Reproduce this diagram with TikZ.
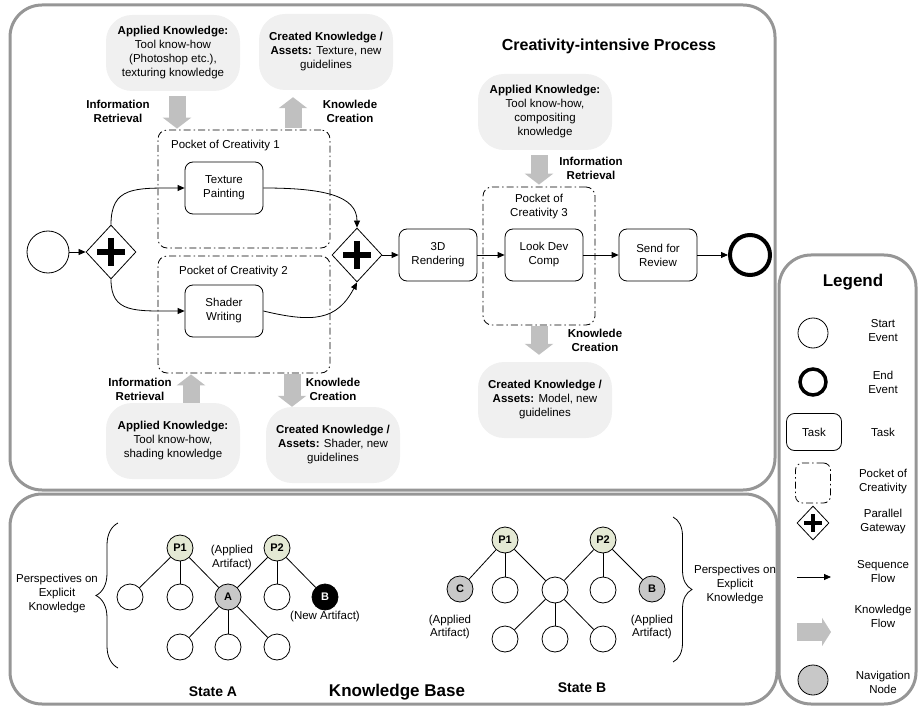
\documentclass[tikz,border=0pt]{standalone}
\usepackage{fontspec}
\setmainfont{Liberation Sans}
\usetikzlibrary{positioning,arrows.meta,shapes.geometric,decorations.pathreplacing}
\definecolor{framegray}{RGB}{150,150,150}
\definecolor{cloudgray}{RGB}{240,240,240}
\definecolor{flowgray}{RGB}{192,192,192}
\definecolor{navgray}{RGB}{200,200,200}
\definecolor{perspfill}{RGB}{228,233,212}
\newcommand\gwplus[3]{\draw[line width=#3] ([yshift=#2]#1.center) -- ([yshift=-#2]#1.center) ([xshift=#2]#1.center) -- ([xshift=-#2]#1.center);}

\begin{document}
\begin{tikzpicture}[x=1pt,y=-1pt,font=\fontsize{11.5}{14}\selectfont,
  frame/.style={draw=framegray,line width=3pt,rounded corners=32pt},
  cloud/.style={fill=cloudgray,rounded corners=26pt,minimum width=134pt,minimum height=76pt,align=center,inner sep=2pt},
  task/.style={draw,rounded corners=8pt,minimum width=78pt,minimum height=52pt,align=center,line width=0.8pt},
  pocket/.style={draw,rounded corners=9pt,dash pattern=on 7pt off 3pt on 1.5pt off 3pt,line width=0.8pt},
  startev/.style={draw,circle,minimum size=42pt,line width=0.8pt},
  endev/.style={draw,circle,minimum size=40pt,line width=4pt},
  gateway/.style={draw,diamond,minimum width=50pt,minimum height=54pt,inner sep=0pt,line width=0.8pt},
  seq/.style={-{Triangle[length=7pt,width=6pt]},line width=0.8pt},
  kflow/.style={flowgray,line width=17pt,-{Triangle[length=11pt,width=28pt]}},
  klabel/.style={font=\fontsize{11.5}{14}\selectfont\bfseries,align=center},
  kb/.style={draw,circle,minimum size=26pt,inner sep=0pt,line width=0.8pt,font=\fontsize{11}{13}\selectfont\bfseries},
  pnode/.style={kb,fill=perspfill},
  leg/.style={align=center}]
\useasboundingbox (0,0) rectangle (920,708);
\draw[frame] (10,5) rectangle (775,490);
\draw[frame] (10,494) rectangle (777,704);
\draw[frame] (779,255) rectangle (916,704);

% process
\node[font=\fontsize{16}{19}\selectfont\bfseries] (title) at (609,46) {Creativity-intensive Process};
\node[cloud] (ak1) at (173,53) {\textbf{Applied Knowledge:}\\Tool know-how\\(Photoshop etc.),\\texturing knowledge};
\node[cloud] (ck1) at (326,52) {\textbf{Created Knowledge /}\\\textbf{Assets:} Texture, new\\guidelines};
\node[cloud] (ak3) at (545,112) {\textbf{Applied Knowledge:}\\Tool know-how,\\compositing\\knowledge};
\node[cloud] (ck3) at (545,400) {\textbf{Created Knowledge /}\\\textbf{Assets:} Model, new\\guidelines};
\node[cloud] (ak2) at (173,441) {\textbf{Applied Knowledge:}\\Tool know-how,\\shading knowledge};
\node[cloud] (ck2) at (333,445) {\textbf{Created Knowledge /}\\\textbf{Assets:} Shader, new\\guidelines};

\node[pocket,minimum width=172pt,minimum height=118pt] (poc1) at (244,189) {};
\node[pocket,minimum width=172pt,minimum height=117pt] (poc2) at (244,314.5) {};
\node[pocket,minimum width=112pt,minimum height=138pt] (poc3) at (539,256) {};
\node[anchor=west] at ([xshift=10pt,yshift=-16pt]poc1.north west) {Pocket of Creativity 1};
\node[anchor=west] at ([xshift=18pt,yshift=-16pt]poc2.north west) {Pocket of Creativity 2};
\node[align=center,below=4pt] at (poc3.north) {Pocket of\\Creativity 3};

\node[startev] (st) at (48,252) {};
\node[gateway] (g1) at (111,252) {};
\node[task] (tp) at (224,188) {Texture\\Painting};
\node[task] (sw) at (224,311) {Shader\\Writing};
\node[gateway] (g2) at (357,255) {};
\node[task] (r3d) at (438,255) {3D\\Rendering};
\node[task] (ldc) at (544,255) {Look Dev\\Comp};
\node[task] (sfr) at (658,255) {Send for\\Review};
\node[endev] (en) at (750,255) {};
\gwplus{g1}{14pt}{5.5pt}
\gwplus{g2}{14pt}{5.5pt}

\draw[seq] (st) -- (g1);
\draw[seq] (g1.north) .. controls +(0,-38) and +(-50,0) .. (tp.west);
\draw[seq] (g1.south) .. controls +(0,34) and +(-50,0) .. (sw.west);
\draw[seq] (tp.east) .. controls +(60,0) and +(0,-32) .. (g2.north);
\draw[seq] (sw.east) .. controls +(50,12) and +(-20,38) .. (g2.south);
\draw[seq] (g2) -- (r3d);
\draw[seq] (r3d) -- (ldc);
\draw[seq] (ldc) -- (sfr);
\draw[seq] (sfr) -- (en);

% knowledge flows
\coordinate (kx1) at (177,0);
\coordinate (kx2) at (293,0);
\coordinate (kx3) at (191,0);
\coordinate (kx4) at (292,0);
\coordinate (kx5) at (539,0);
\draw[kflow,shorten <=5pt,shorten >=1pt] (kx1 |- ak1.south) -- (kx1 |- poc1.north);
\draw[kflow,shorten <=2pt,shorten >=7pt] (kx2 |- poc1.north) -- (kx2 |- ck1.south);
\draw[kflow,shorten >=1pt] (kx3 |- ak2.north) -- (kx3 |- poc2.south);
\draw[kflow,shorten <=1pt] (kx4 |- poc2.south) -- (kx4 |- ck2.north);
\draw[kflow,shorten <=5pt,shorten >=2pt] (kx5 |- ak3.south) -- (kx5 |- poc3.north);
\draw[kflow,shorten <=1pt,shorten >=7pt] (kx5 |- poc3.south) -- (kx5 |- ck3.north);
\node[klabel] at (118,111) {Information\\Retrieval};
\node[klabel] at (350,111) {Knowlede\\Creation};
\node[klabel] at (591,168) {Information\\Retrieval};
\node[klabel] at (595,340) {Knowlede\\Creation};
\node[klabel] at (140,389) {Information\\Retrieval};
\node[klabel] at (333,389) {Knowlede\\Creation};

% knowledge base, state A
\node[pnode] (ap1) at (180,548) {P1};
\node[pnode] (ap2) at (277,548) {P2};
\foreach \n/\x in {1/130,2/180,4/277} \node[kb] (a\n) at (\x,597) {};
\node[kb,fill=navgray] (a3) at (228,597) {A};
\node[kb,fill=black,text=white] (a5) at (325,597) {B};
\foreach \n/\x in {6/180,7/228,8/277} \node[kb] (a\n) at (\x,647) {};
\foreach \u/\v in {ap1/a1,ap1/a2,ap1/a3,ap2/a3,ap2/a4,ap2/a5,a3/a6,a3/a7,a3/a8} \draw[line width=0.8pt] (\u) -- (\v);
\node[leg] at (232,558) {(Applied\\Artifact)};
\node[leg] at (325,617) {(New Artifact)};
\draw[decorate,decoration={brace,amplitude=22pt},line width=0.8pt] (118,668) -- (118,523);
\node[leg] at (57,594) {Perspectives on\\Explicit\\Knowledge};
\node[font=\fontsize{14}{17}\selectfont\bfseries] at (213,692) {State A};

% state B
\node[pnode] (bp1) at (505,540) {P1};
\node[pnode] (bp2) at (603,540) {P2};
\foreach \n/\x in {2/505,3/555,4/603} \node[kb] (b\n) at (\x,590) {};
\node[kb,fill=navgray] (b1) at (460,589) {C};
\node[kb,fill=navgray] (b5) at (652,589) {B};
\foreach \n/\x in {6/505,7/555,8/603} \node[kb] (b\n) at (\x,639) {};
\foreach \u/\v in {bp1/b1,bp1/b2,bp1/b3,bp2/b3,bp2/b4,bp2/b5,b3/b6,b3/b7,b3/b8} \draw[line width=0.8pt] (\u) -- (\v);
\node[leg,font=\fontsize{11.5}{13}\selectfont] at (450,627) {(Applied\\Artifact)};
\node[leg,font=\fontsize{11.5}{13}\selectfont] at (652,627) {(Applied\\Artifact)};
\draw[decorate,decoration={brace,amplitude=19pt},line width=0.8pt] (673,517) -- (673,662);
\node[leg] at (735,585) {Perspectives on\\Explicit\\Knowledge};
\node[font=\fontsize{14}{17}\selectfont\bfseries] at (582,688) {State B};
\node[font=\fontsize{17}{20}\selectfont\bfseries] at (397,692) {Knowledge Base};

% legend
\node[font=\fontsize{17}{20}\selectfont\bfseries] at (853,282) {Legend};
\node[startev,minimum size=30pt] (lgs) at (813,333) {};
\node[endev,minimum size=26pt,line width=3.5pt] (lge) at (813,382) {};
\node[task,minimum width=55pt,minimum height=37pt] (lgt) at (814,432) {Task};
\node[pocket,minimum width=35pt,minimum height=40pt,rounded corners=7pt] (lgp) at (813,483) {};
\node[gateway,minimum width=32pt,minimum height=34pt] (lgg) at (813,523) {};
\gwplus{lgg}{9pt}{4pt}
\coordinate (lsa) at (797,577);
\coordinate (lsb) at (831,577);
\draw[seq] (lsa) -- (lsb);
\coordinate (lka) at (797,632);
\coordinate (lkb) at (831,632);
\draw[kflow,line width=18pt,-{Triangle[length=9pt,width=28pt]}] (lka) -- (lkb);
\node[kb,minimum size=30pt,fill=navgray] (lgn) at (813,680) {};
\node[leg] at (883,331) {Start\\Event};
\node[leg] at (883,382) {End\\Event};
\node[leg] at (883,432) {Task};
\node[leg] at (883,482) {Pocket of\\Creativity};
\node[leg] at (883,522) {Parallel\\Gateway};
\node[leg] at (883,572) {Sequence\\Flow};
\node[leg] at (883,616) {Knowledge\\Flow};
\node[leg] at (883,682) {Navigation\\Node};
\end{tikzpicture}
\end{document}
